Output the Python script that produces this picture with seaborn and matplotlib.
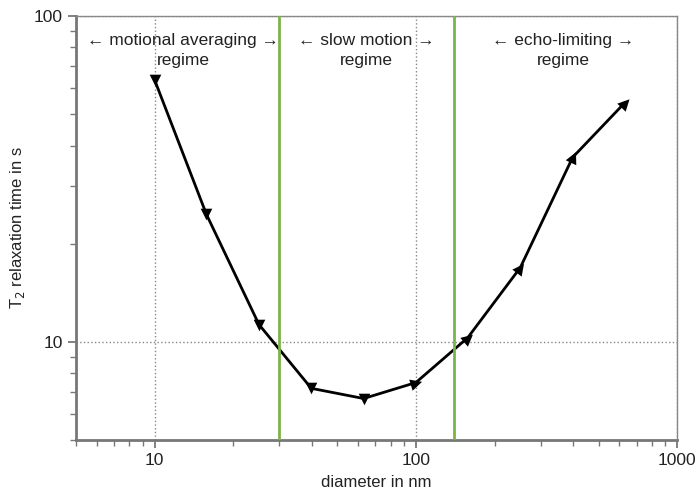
import numpy as np
import pandas as pd
import matplotlib
matplotlib.use("Agg")
import matplotlib.pyplot as plt
from matplotlib.markers import MarkerStyle
from matplotlib.ticker import LogLocator, NullFormatter, FixedLocator, FixedFormatter
import seaborn as sns

diameter = [10, 15.8, 25.1, 39.8, 63.1, 100, 158, 251, 398, 631]
t2 = [63.7, 24.6, 11.3, 7.2, 6.7, 7.5, 10.3, 16.9, 36.8, 54.2]
boundaries = [30, 140]
regimes = ["\u2190 motional averaging \u2192\nregime",
           "\u2190 slow motion \u2192\nregime",
           "\u2190 echo-limiting \u2192\nregime"]
regime_x = [0.178, 0.483, 0.81]

sns.set_style("white")
plt.rcParams['font.family'] = ['Liberation Sans', 'DejaVu Sans']

fig = plt.figure(figsize=(6.96, 4.96), dpi=100)
ax = fig.add_axes([0.109, 0.113, 0.864, 0.855])

df = pd.DataFrame({"diameter": diameter, "t2": t2})
sns.lineplot(data=df, x="diameter", y="t2", color="black", linewidth=2, ax=ax)
ax.set_xscale("log")
ax.set_yscale("log")
ax.set_xlim(5, 1000)
ax.set_ylim(5, 100)

for b in boundaries:
    ax.axvline(b, color="#7cb24a", linewidth=2, zorder=3)

# arrowhead markers pointing along the curve where it rises
pts = ax.transData.transform(np.column_stack([diameter, t2]))
for i, (x, y) in enumerate(zip(diameter, t2)):
    if i > 0 and pts[i][1] > pts[i - 1][1]:
        dx, dy = pts[i] - pts[i - 1]
        ang = np.degrees(np.arctan2(dy, dx)) + 90
        m = MarkerStyle("v").rotated(deg=ang)
    else:
        m = "v"
    ax.scatter([x], [y], marker=m, s=70, color="black", zorder=5, linewidths=0)

ax.xaxis.set_major_locator(FixedLocator([10, 100, 1000]))
ax.xaxis.set_major_formatter(FixedFormatter(["10", "100", "1000"]))
ax.xaxis.set_minor_locator(LogLocator(base=10, subs=np.arange(2, 10)))
ax.xaxis.set_minor_formatter(NullFormatter())
ax.yaxis.set_major_locator(FixedLocator([10, 100]))
ax.yaxis.set_major_formatter(FixedFormatter(["10", "100"]))
ax.yaxis.set_minor_locator(LogLocator(base=10, subs=np.arange(2, 10)))
ax.yaxis.set_minor_formatter(NullFormatter())

ax.grid(which="major", linestyle=":", color="#888888", linewidth=1)
ax.tick_params(which="major", direction="out", length=6, width=1.3, color="#777777",
               labelsize=12.5, labelcolor="#222222", left=True, bottom=True)
ax.tick_params(which="minor", direction="out", length=4, width=1, color="#777777",
               left=True, bottom=True)

for side in ["left", "bottom"]:
    ax.spines[side].set_color("#777777")
    ax.spines[side].set_linewidth(2)
for side in ["top", "right"]:
    ax.spines[side].set_color("#888888")
    ax.spines[side].set_linewidth(1)

for label, xf in zip(regimes, regime_x):
    ax.text(xf, 0.96, label, transform=ax.transAxes, ha="center", va="top",
            fontsize=12.5, color="#222222", linespacing=1.45)

ax.set_xlabel("diameter in nm", fontsize=12, color="#222222", labelpad=5)
ax.set_ylabel("T$_2$ relaxation time in s", fontsize=12, color="#222222", labelpad=5)

fig.savefig("out.png", dpi=100)
